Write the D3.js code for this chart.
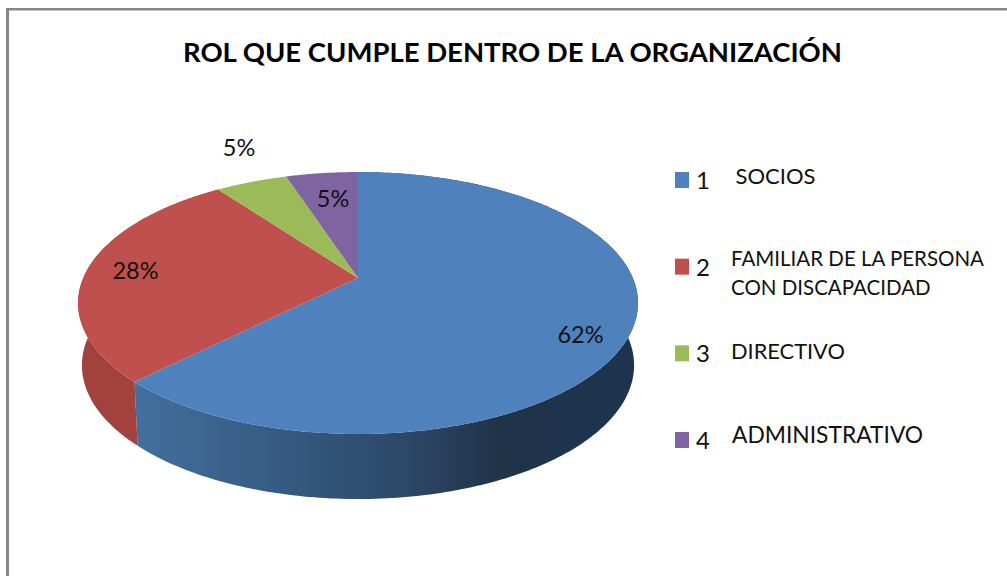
<!DOCTYPE html>
<html>
<head>
<meta charset="utf-8">
<script src="https://cdnjs.cloudflare.com/ajax/libs/d3/7.8.5/d3.min.js"></script>
<style>
	html, body { margin: 0; padding: 0; background: #fff; }
	svg { display: block; }
	text { font-family: Lato, "Open Sans", sans-serif; fill: #111; }
</style>
</head>
<body>
<svg id="chart" width="1007" height="576"></svg>
<script>
var title = "ROL QUE CUMPLE DENTRO DE LA ORGANIZACIÓN";
var categories = ["SOCIOS", "FAMILIAR DE LA PERSONA|CON DISCAPACIDAD", "DIRECTIVO", "ADMINISTRATIVO"];
var legendNumbers = ["1", "2", "3", "4"];
var values = [62.4, 27.6, 5, 5];
var colors = ["#4f81bd", "#c0504d", "#9bbb59", "#8064a2"];

var svg = d3.select("#chart");
var pct = d3.format(".0%");
var total = d3.sum(values);

// 枠線 (left and top only, the picture is cut on the other sides)
svg.append("rect").attr("x", 6).attr("y", 8).attr("width", 1001).attr("height", 2.5).attr("fill", "#878787");
svg.append("rect").attr("x", 6).attr("y", 8).attr("width", 3).attr("height", 568).attr("fill", "#878787");

svg.append("text")
	.attr("x", 512.5).attr("y", 62)
	.attr("text-anchor", "middle")
	.attr("font-size", 27)
	.attr("font-weight", 700)
	.attr("textLength", 659)
	.attr("lengthAdjust", "spacingAndGlyphs")
	.style("fill", "#000")
	.text(title);

// perspective disc: angle (clockwise from the top) -> screen point
var cx = 358, k = -0.191;
function project(a, f, R, S, y0) {
	var u = Math.sin(a) * f, v = -Math.cos(a) * f, w = 1 + k * v;
	return [cx + R * u / w, y0 + S * v / w];
}
function topRim(a, f) { return project(a, f === undefined ? 1 : f, 274.8, 126.2, 278); }
function bottomRim(a) { return project(a, 1, 271, 128.9, 339.7); }

var arcs = d3.pie().sort(null).value(function(d) { return d; })(values);
var line = d3.line();

function steps(a0, a1) {
	var n = Math.max(2, Math.ceil(Math.abs(a1 - a0) * 60));
	return d3.range(n + 1).map(function(i) { return a0 + (a1 - a0) * i / n; });
}

// side wall
var defs = svg.append("defs");
var sideBlue = defs.append("linearGradient").attr("id", "sideBlue")
	.attr("gradientUnits", "userSpaceOnUse")
	.attr("x1", 133).attr("x2", 640).attr("y1", 0).attr("y2", 0);
[[0, "#43709f"], [0.33, "#34577e"], [0.55, "#2c4766"], [0.72, "#203349"], [1, "#1d3350"]].forEach(function(s) {
	sideBlue.append("stop").attr("offset", s[0]).attr("stop-color", s[1]);
});
var sideFill = ["url(#sideBlue)", "#a2423f"];
arcs.slice(0, 2).forEach(function(d, i) {
	var a = steps(d.startAngle, d.endAngle);
	var pts = a.map(function(t) { return topRim(t); })
		.concat(a.slice().reverse().map(bottomRim));
	svg.append("path").attr("d", line(pts) + "Z").attr("fill", sideFill[i]);
});

// top face
svg.selectAll("path.slice")
	.data(arcs)
	.enter().append("path")
	.attr("class", "slice")
	.attr("fill", function(d, i) { return colors[i]; })
	.attr("d", function(d) {
		var pts = [topRim(0, 0)].concat(steps(d.startAngle, d.endAngle).map(function(t) { return topRim(t); }));
		return line(pts) + "Z";
	});

// data labels
var labelXY = [[580.5, 335], [135.5, 271], [239, 148], [333, 199]];
svg.selectAll("text.pct")
	.data(values)
	.enter().append("text")
	.attr("class", "pct")
	.attr("x", function(d, i) { return labelXY[i][0]; })
	.attr("y", function(d, i) { return labelXY[i][1] + 8; })
	.attr("text-anchor", "middle")
	.attr("font-size", 23.5)
	.text(function(d) { return pct(d / total); });

// legend
var legendY = d3.scalePoint().domain(legendNumbers).range([180, 440]);
var legend = svg.selectAll("g.leg")
	.data(legendNumbers)
	.enter().append("g")
	.attr("class", "leg")
	.attr("transform", function(d) { return "translate(0," + legendY(d) + ")"; });
legend.append("rect")
	.attr("x", 675).attr("y", -8).attr("width", 14).attr("height", 16)
	.attr("fill", function(d, i) { return colors[i]; });
legend.append("text")
	.attr("x", 696).attr("y", 9)
	.attr("font-size", 24)
	.text(function(d) { return d; });
var labelX = [735.5, 731, 731, 732];
var labelY = [4, -1, 6, 3];
var labelSize = [22, 20.5, 21.8, 22.8];
legend.each(function(d, i) {
	var g = d3.select(this);
	categories[i].split("|").forEach(function(s, j) {
		g.append("text")
			.attr("x", labelX[i]).attr("y", labelY[i] + j * 29)
			.attr("font-size", labelSize[i])
			.text(s);
	});
});
</script>
</body>
</html>
